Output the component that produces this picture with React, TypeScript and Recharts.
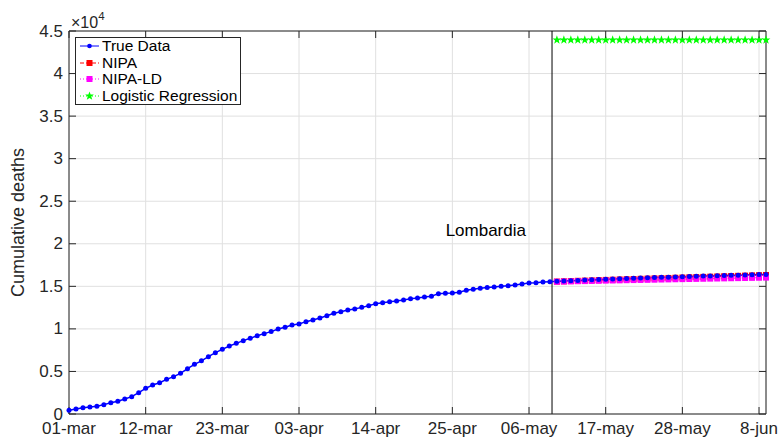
import {
  ComposedChart,
  Line,
  XAxis,
  YAxis,
  CartesianGrid,
  ReferenceLine,
  ReferenceDot,
  Legend,
} from "recharts";

const FONT = '"Liberation Sans", Arial, Helvetica, sans-serif';
const AXIS = "#262626";
const GRID = "#e0e0e0";
const BLUE = "#0000ff";
const RED = "#ff0000";
const MAGENTA = "#ff00ff";
const GREEN = "#00ff00";

// plot box (matches margin + axis sizes below)
const PLOT_TOP = 31;
const PLOT_RIGHT = 766;

const tickDays = [0, 11, 22, 33, 44, 55, 66, 77, 88, 99];
const tickLabels = [
  "01-mar", "12-mar", "23-mar", "03-apr", "14-apr",
  "25-apr", "06-may", "17-may", "28-may", "8-jun",
];
const yTicks = [0, 5000, 10000, 15000, 20000, 25000, 30000, 35000, 40000, 45000];

// cumulative deaths, one value per day from 01-mar
const trueData = [
  450, 590, 740, 820, 900, 1100, 1330, 1490, 1760, 2040,
  2510, 3020, 3410, 3680, 4070, 4390, 4780, 5330, 5840, 6250,
  6740, 7210, 7600, 7990, 8300, 8620, 8890, 9200, 9440, 9680,
  9990, 10190, 10460, 10580, 10850, 11050, 11280, 11550, 11830, 12025,
  12220, 12340, 12530, 12730, 12965, 13080, 13200, 13280, 13400, 13550,
  13630, 13750, 13830, 14140, 14180, 14220, 14300, 14550, 14650, 14770,
  14850, 14920, 15000, 15080, 15160, 15280, 15390, 15430, 15510, 15550,
  15590, 15630, 15665, 15700, 15740, 15770, 15800, 15830, 15860, 15890,
  15920, 15945, 15975, 16000, 16030, 16055, 16080, 16105, 16130, 16155,
  16180, 16200, 16225, 16250, 16270, 16290, 16315, 16335, 16360, 16380,
  16400,
];

// forecasts start on day 70 (10-may)
const forecastStart = 70;
const splitDay = 69.3;

const nipa = [
  15560, 15590, 15620, 15650, 15675, 15700, 15730, 15755, 15780, 15810,
  15835, 15860, 15885, 15910, 15935, 15960, 15985, 16010, 16035, 16060,
  16085, 16110, 16135, 16160, 16185, 16210, 16235, 16260, 16285, 16310,
  16335,
];
const nipaLd = [
  15540, 15560, 15580, 15600, 15615, 15635, 15650, 15670, 15685, 15700,
  15720, 15735, 15750, 15765, 15780, 15800, 15815, 15830, 15845, 15860,
  15875, 15890, 15905, 15920, 15935, 15950, 15965, 15980, 15995, 16010,
  16025,
];
const logistic = [
  43950, 43950, 43950, 43950, 43950, 43950, 43950, 43950, 43950, 43950,
  43950, 43950, 43950, 43950, 43950, 43950, 43950, 43950, 43950, 43950,
  43950, 43950, 43950, 43950, 43950, 43950, 43950, 43950, 43950, 43950,
  43950,
];

const data = trueData.map((v, day) => {
  const k = day - forecastStart;
  return {
    day,
    trueData: v,
    nipa: k >= 0 ? nipa[k] : null,
    nipaLd: k >= 0 ? nipaLd[k] : null,
    logistic: k >= 0 ? logistic[k] : null,
  };
});

function starPath(cx: number, cy: number, R: number, r: number) {
  let d = "";
  for (let i = 0; i < 10; i++) {
    const a = -Math.PI / 2 + (i * Math.PI) / 5;
    const rad = i % 2 === 0 ? R : r;
    d += (i === 0 ? "M" : "L") + (cx + rad * Math.cos(a)).toFixed(2) + "," + (cy + rad * Math.sin(a)).toFixed(2);
  }
  return d + "Z";
}

const squareDot = (color: string) => (props: any) => {
  const { cx, cy, index } = props;
  if (cx == null || cy == null) return <g key={`s${index}`} />;
  return <rect key={`s${index}`} x={cx - 3} y={cy - 3} width={6} height={6} fill={color} />;
};

const starDot = (props: any) => {
  const { cx, cy, index } = props;
  if (cx == null || cy == null) return <g key={`t${index}`} />;
  return <path key={`t${index}`} d={starPath(cx, cy, 4.6, 1.9)} fill={GREEN} />;
};

function XTick({ x, y, payload }: any) {
  const i = tickDays.indexOf(payload.value);
  return (
    <g>
      <line x1={x} x2={x} y1={PLOT_TOP} y2={PLOT_TOP + 7} stroke={AXIS} />
      <text x={x} y={y} textAnchor="middle" fill={AXIS} fontSize={17} fontFamily={FONT}>
        {tickLabels[i]}
      </text>
    </g>
  );
}

function YTick({ x, y, payload }: any) {
  return (
    <g>
      <line x1={PLOT_RIGHT} x2={PLOT_RIGHT - 7} y1={y} y2={y} stroke={AXIS} />
      <text x={x} y={y} dy="0.33em" textAnchor="end" fill={AXIS} fontSize={17} fontFamily={FONT}>
        {String(payload.value / 10000)}
      </text>
    </g>
  );
}

function YLabel({ viewBox }: any) {
  const { x, y, width, height } = viewBox;
  const cy = y + height / 2;
  return (
    <g fontFamily={FONT}>
      <text
        x={x + 18}
        y={cy}
        transform={`rotate(-90, ${x + 18}, ${cy})`}
        textAnchor="middle"
        dominantBaseline="central"
        fontSize={18}
        fill={AXIS}
      >
        Cumulative deaths
      </text>
      <text x={x + width + 2} y={y - 3} fontSize={16} fill={AXIS}>
        ×10
        <tspan dy={-8} fontSize={11.5}>4</tspan>
      </text>
    </g>
  );
}

const legendItems = [
  { name: "True Data", color: BLUE, dash: undefined, marker: "dot" },
  { name: "NIPA", color: RED, dash: "4 2", marker: "square" },
  { name: "NIPA-LD", color: MAGENTA, dash: "1 2", marker: "square" },
  { name: "Logistic Regression", color: GREEN, dash: "1 2", marker: "star" },
];

function LegendBox() {
  return (
    <div
      style={{
        border: `1px solid ${AXIS}`,
        background: "#fff",
        padding: "0 3px 0 4px",
        fontFamily: FONT,
        fontSize: 15.5,
        color: "#000",
      }}
    >
      {legendItems.map((it) => (
        <div
          key={it.name}
          style={{ display: "flex", alignItems: "center", height: 16.5, whiteSpace: "nowrap" }}
        >
          <svg width={20} height={12} style={{ marginRight: 2, flex: "none" }}>
            <line x1={0} x2={19} y1={6} y2={6} stroke={it.color} strokeWidth={1} strokeDasharray={it.dash} />
            {it.marker === "dot" && <circle cx={9.5} cy={6} r={2.3} fill={it.color} />}
            {it.marker === "square" && <rect x={6.5} y={3} width={6} height={6} fill={it.color} />}
            {it.marker === "star" && <path d={starPath(9.5, 6, 4.6, 1.9)} fill={it.color} />}
          </svg>
          <span>{it.name}</span>
        </div>
      ))}
    </div>
  );
}

export default function App() {
  return (
    <div
      style={{ position: "absolute", left: 0, top: 0, width: 779, height: 439, background: "#fff" }}
    >
      <ComposedChart
        width={779}
        height={439}
        data={data}
        margin={{ top: PLOT_TOP, right: 779 - PLOT_RIGHT, bottom: 0, left: 0 }}
      >
        <CartesianGrid stroke={GRID} strokeWidth={1} />
        <XAxis
          dataKey="day"
          type="number"
          domain={[0, 100]}
          ticks={tickDays}
          interval={0}
          height={25}
          stroke={AXIS}
          tickSize={-7}
          tickMargin={27}
          tickLine={{ stroke: AXIS }}
          tick={<XTick />}
        />
        <YAxis
          type="number"
          domain={[0, 45000]}
          ticks={yTicks}
          interval={0}
          width={69}
          stroke={AXIS}
          tickSize={-7}
          tickMargin={13}
          tickLine={{ stroke: AXIS }}
          tick={<YTick />}
          label={(p: any) => <YLabel {...p} />}
        />
        <ReferenceLine y={45000} stroke={AXIS} strokeWidth={1} />
        <ReferenceLine x={100} stroke={AXIS} strokeWidth={1} />
        <ReferenceLine x={splitDay} stroke="#000" strokeWidth={1} />
        <ReferenceDot
          x={59.8}
          y={21600}
          r={0}
          fill="none"
          stroke="none"
          label={{ value: "Lombardia", position: "center", fontSize: 17, fill: "#000", fontFamily: FONT }}
        />
        <Line
          dataKey="nipa"
          stroke={RED}
          strokeWidth={1}
          strokeDasharray="4 2"
          dot={squareDot(RED)}
          isAnimationActive={false}
        />
        <Line
          dataKey="nipaLd"
          stroke={MAGENTA}
          strokeWidth={1}
          strokeDasharray="1 2"
          dot={squareDot(MAGENTA)}
          isAnimationActive={false}
        />
        <Line
          dataKey="trueData"
          stroke={BLUE}
          strokeWidth={1.5}
          dot={{ r: 2.5, fill: BLUE, stroke: "none" }}
          isAnimationActive={false}
        />
        <Line
          dataKey="logistic"
          stroke={GREEN}
          strokeWidth={1}
          strokeDasharray="1 2"
          dot={starDot}
          isAnimationActive={false}
        />
        <Legend
          layout="vertical"
          align="center"
          verticalAlign="middle"
          content={<LegendBox />}
          wrapperStyle={{ left: 75, top: 37, width: "auto", height: "auto" }}
        />
      </ComposedChart>
    </div>
  );
}
